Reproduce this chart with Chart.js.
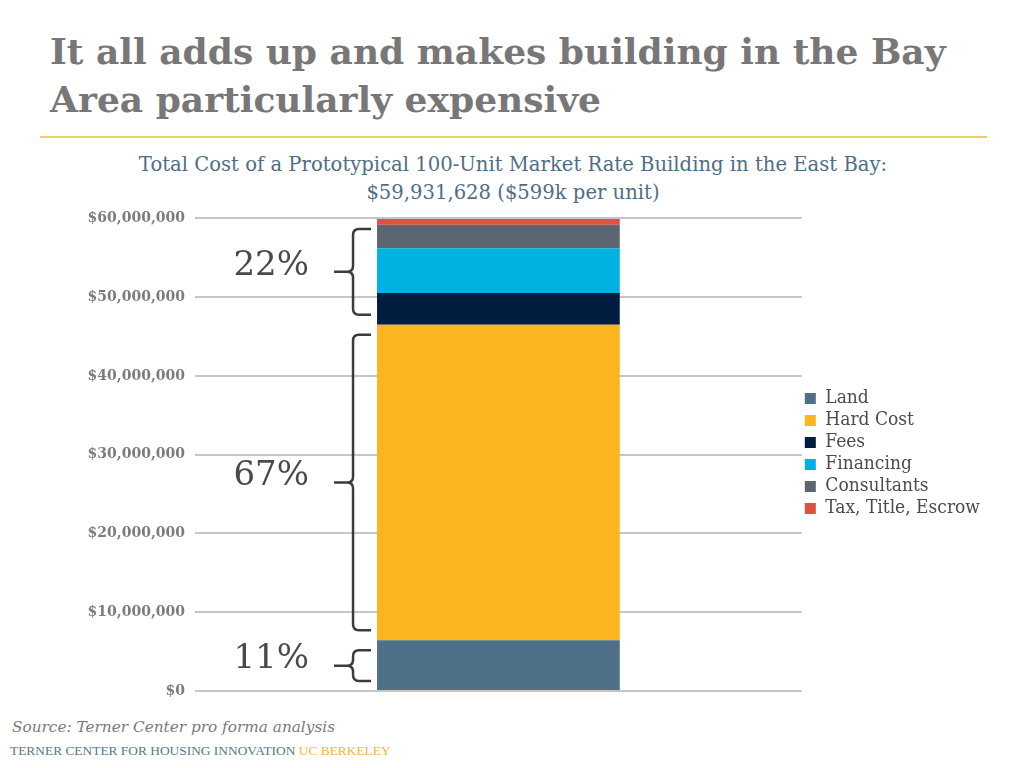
<!DOCTYPE html>
<html lang="en">
<head>
<meta charset="UTF-8">
<title>Bay Area building cost</title>
<script src="https://cdn.jsdelivr.net/npm/chart.js"></script>
<style>
    body {
        margin: 0;
        width: 1024px;
        height: 768px;
        background: #fff;
        position: relative;
        overflow: hidden;
        font-family: 'DejaVu Serif', serif;
    }

    .title {
        position: absolute;
        left: 50px;
        top: 27px;
        font-weight: bold;
        font-size: 36px;
        line-height: 48px;
        color: #777;
        white-space: nowrap;
    }

    .rule {
        position: absolute;
        left: 40px;
        top: 136px;
        width: 947px;
        height: 2px;
        background: #f6cc5a;
    }

    .subtitle {
        position: absolute;
        left: 0;
        width: 1026px;
        top: 151px;
        text-align: center;
        color: #4f6e86;
        font-size: 19.6px;
        line-height: 28px;
        white-space: nowrap;
    }

    .chart-box {
        position: absolute;
        left: 0;
        top: 200px;
        width: 1000px;
        height: 510px;
    }

    .source {
        position: absolute;
        left: 12px;
        top: 718px;
        font-style: italic;
        color: #7a7a7a;
        font-size: 15.3px;
        line-height: 18px;
    }

    .footer {
        position: absolute;
        left: 10px;
        top: 743px;
        font-family: 'Liberation Serif', serif;
        font-size: 13.4px;
        line-height: 15px;
        color: #56788c;
    }

    .footer span {
        color: #f2b632;
    }
</style>
</head>
<body>
    <div class="title">It all adds up and makes building in the Bay<br>Area particularly expensive</div>
    <div class="rule"></div>
    <div class="subtitle">Total Cost of a Prototypical 100-Unit Market Rate Building in the East Bay:<br>$59,931,628 ($599k per unit)</div>
    <div class="chart-box"><canvas id="costChart"></canvas></div>
    <div class="source">Source: Terner Center pro forma analysis</div>
    <div class="footer">TERNER CENTER FOR HOUSING INNOVATION <span>UC BERKELEY</span></div>
<script>
    // data
    const categories = [''];
    const seriesNames = ['Land', 'Hard Cost', 'Fees', 'Financing', 'Consultants', 'Tax, Title, Escrow'];
    const land = [6440000];
    const hardCost = [40060000];
    const fees = [4040000];
    const financing = [5660000];
    const consultants = [3000000];
    const taxTitleEscrow = [731628];
    const seriesColors = ['#4e7189', '#fbb51f', '#011e40', '#00b2e2', '#5b6670', '#e2513f'];
    const yTicks = [0, 10000000, 20000000, 30000000, 40000000, 50000000, 60000000];

    // brackets: which series each one spans, and its label
    const bracketGroups = [[0], [1], [2, 3, 4, 5]];
    const bracketLabels = ['11%', '67%', '22%'];

    const seriesValues = [land, hardCost, fees, financing, consultants, taxTitleEscrow];

    const bracketPlugin = {
        id: 'brackets',
        afterDatasetsDraw(chart) {
            const ctx = chart.ctx;
            const yScale = chart.scales.y;
            const bar = chart.getDatasetMeta(0).data[0];
            const barLeft = bar.x - bar.width / 2;
            const armX = barLeft - 6;
            const spineX = barLeft - 24;
            const tipX = barLeft - 43;
            const r = 6;
            ctx.save();
            bracketGroups.forEach((group, i) => {
                let bottom = 0;
                for (let k = 0; k < group[0]; k++) bottom += seriesValues[k][0];
                let top = bottom;
                group.forEach(k => { top += seriesValues[k][0]; });
                const yTop = yScale.getPixelForValue(top) + 10;
                const yBot = yScale.getPixelForValue(bottom) - 10;
                const mid = (yTop + yBot) / 2;

                ctx.beginPath();
                ctx.moveTo(armX, yTop);
                ctx.lineTo(spineX + r, yTop);
                ctx.quadraticCurveTo(spineX, yTop, spineX, yTop + r);
                ctx.lineTo(spineX, mid - r);
                ctx.quadraticCurveTo(spineX, mid, spineX - r, mid);
                ctx.lineTo(tipX, mid);
                ctx.moveTo(spineX - r, mid);
                ctx.quadraticCurveTo(spineX, mid, spineX, mid + r);
                ctx.lineTo(spineX, yBot - r);
                ctx.quadraticCurveTo(spineX, yBot, spineX + r, yBot);
                ctx.lineTo(armX, yBot);
                ctx.strokeStyle = '#3c3c3c';
                ctx.lineWidth = 2.5;
                ctx.stroke();

                ctx.font = '34px "DejaVu Serif"';
                ctx.fillStyle = '#4a4a4a';
                ctx.textAlign = 'right';
                ctx.textBaseline = 'middle';
                ctx.fillText(bracketLabels[i], tipX - 25, mid - 6);
            });
            ctx.restore();
        }
    };

    const datasets = seriesNames.map((name, i) => ({
        label: name,
        data: seriesValues[i],
        backgroundColor: seriesColors[i],
        borderWidth: 0,
        barPercentage: 0.4,
        categoryPercentage: 1.0
    }));

    new Chart(document.getElementById('costChart'), {
        type: 'bar',
        data: {
            labels: categories,
            datasets: datasets
        },
        options: {
            responsive: true,
            maintainAspectRatio: false,
            animation: false,
            layout: {
                padding: { top: 16, bottom: 19, left: 0, right: 10 }
            },
            plugins: {
                tooltip: { enabled: false },
                legend: {
                    position: 'right',
                    align: 'center',
                    labels: {
                        boxWidth: 11,
                        boxHeight: 11,
                        padding: 3,
                        color: '#4c4c4c',
                        font: { family: '"DejaVu Serif Condensed", "DejaVu Serif"', size: 19 }
                    }
                }
            },
            scales: {
                x: {
                    stacked: true,
                    display: false
                },
                y: {
                    stacked: true,
                    min: 0,
                    max: 60000000,
                    afterBuildTicks: axis => { axis.ticks = yTicks.map(v => ({ value: v })); },
                    afterFit: axis => { axis.width = 195; },
                    border: { display: false },
                    grid: { color: '#c6c6c6', lineWidth: 2, drawTicks: false },
                    ticks: {
                        padding: 10,
                        color: '#7c7c7c',
                        font: { family: '"DejaVu Serif"', size: 14, weight: 'bold' },
                        callback: v => '$' + v.toLocaleString('en-US')
                    }
                }
            }
        },
        plugins: [bracketPlugin]
    });
</script>
</body>
</html>
